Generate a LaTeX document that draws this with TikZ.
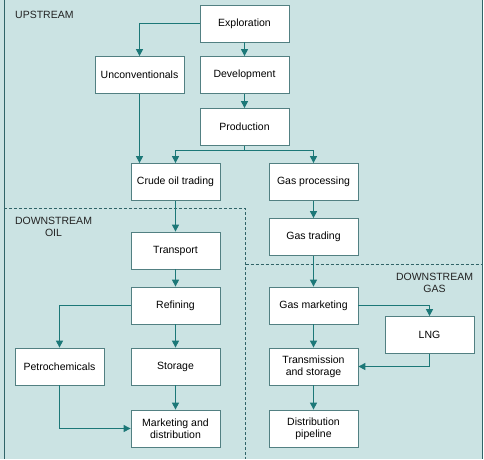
\documentclass[tikz,border=0pt]{standalone}
\usepackage{fontspec}
\setmainfont{Liberation Sans}
\usetikzlibrary{arrows.meta}
\definecolor{upbg}{RGB}{203,227,227}
\definecolor{flow}{RGB}{28,120,120}
\definecolor{boxline}{RGB}{82,128,130}
\definecolor{frameline}{RGB}{48,100,104}
\definecolor{labeltext}{RGB}{35,35,35}
\begin{document}
\begin{tikzpicture}[x = 1pt, y = -1pt, font = \fontsize{10.5}{12.3}\selectfont,
	stage/.style = {draw = boxline, fill = white, line width = .8pt, minimum width = 89pt, minimum height = 37pt, align = center, inner sep = 1pt},
	flowarrow/.style = {draw = flow, line width = 1.1pt, -{Triangle[length = 7pt, width = 7pt]}},
	zone/.style = {draw = frameline, line width = .7pt, dash pattern = on 3pt off 2pt},
	zonelabel/.style = {text = labeltext, align = center, inner sep = 0pt}]
		\useasboundingbox (0,0) rectangle (484,459);
		\path [fill = upbg] (0,0) rectangle (482,459);
		\path [draw = frameline, line width = 1pt] (4,0) -- (4,459);
		\path [draw = frameline, line width = 1pt] (482,0) -- (482,459);
		\path [zone] (4,208.5) -- (245.5,208.5) -- (245.5,459);
		\path [zone] (245.5,264.5) -- (482,264.5);
		\node [zonelabel, anchor = west] (upstream) at (15,15) {UPSTREAM};
		\node [zonelabel] (dsoil) at (53.5,227) {DOWNSTREAM\\OIL};
		\node [zonelabel] (dsgas) at (434.5,283) {DOWNSTREAM\\GAS};
		\node [stage] (expl) at (244.5,23.5) {Exploration};
		\node [stage] (uncon) at (139.5,75) {Unconventionals};
		\node [stage] (devel) at (244.5,75) {Development};
		\node [stage] (prod) at (244.5,127) {Production};
		\node [stage] (crude) at (175.5,182) {Crude oil trading};
		\node [stage] (gasproc) at (313.5,182) {Gas processing};
		\node [stage] (transport) at (175.5,250.5) {Transport};
		\node [stage] (refin) at (175.5,305.5) {Refining};
		\node [stage] (petro) at (59.5,366.5) {Petrochemicals};
		\node [stage] (storage) at (175.5,366.5) {Storage};
		\node [stage] (mktdist) at (175.5,428.5) {Marketing and\\distribution};
		\node [stage] (gastrade) at (313.5,237) {Gas trading};
		\node [stage] (gasmkt) at (313.5,305.5) {Gas marketing};
		\node [stage] (lng) at (429.5,335) {LNG};
		\node [stage] (transm) at (313.5,366.5) {Transmission\\and storage};
		\node [stage] (distpipe) at (313.5,428.5) {Distribution\\pipeline};
		\coordinate (split) at ([yshift = -5pt] prod.south);
		\path [flowarrow] (expl.west) -| (uncon.north);
		\path [flowarrow] (expl) -- (devel);
		\path [flowarrow] (devel) -- (prod);
		\path [flowarrow] (uncon.south) -- (uncon.south |- crude.north);
		\path [draw = flow, line width = 1.1pt] (prod.south) -- (split);
		\path [flowarrow] (split) -| (crude.north);
		\path [flowarrow] (split) -| (gasproc.north);
		\path [flowarrow] (crude) -- (transport);
		\path [flowarrow] (transport) -- (refin);
		\path [flowarrow] (refin.west) -| (petro.north);
		\path [flowarrow] (refin) -- (storage);
		\path [flowarrow] (storage) -- (mktdist);
		\path [flowarrow] (petro.south) |- (mktdist.west);
		\path [flowarrow] (gasproc) -- (gastrade);
		\path [flowarrow] (gastrade) -- (gasmkt);
		\path [flowarrow] (gasmkt.east) -| (lng.north);
		\path [flowarrow] (gasmkt) -- (transm);
		\path [flowarrow] (lng.south) |- (transm.east);
		\path [flowarrow] (transm) -- (distpipe);
	\end{tikzpicture}
\end{document}
